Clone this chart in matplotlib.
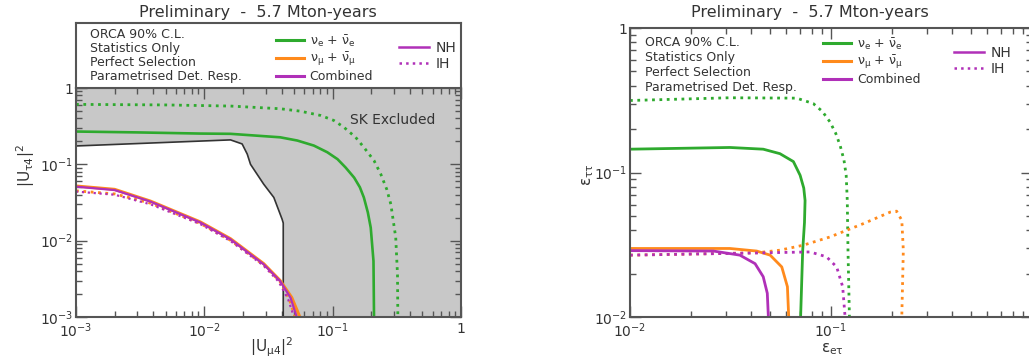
import numpy as np
import matplotlib
matplotlib.use('Agg')
import matplotlib.pyplot as plt
from matplotlib.lines import Line2D
from matplotlib.ticker import LogLocator, NullFormatter

# ---- data ----
title = 'Preliminary  -  5.7 Mton-years'
info_lines = ['ORCA 90% C.L.', 'Statistics Only', 'Perfect Selection',
              'Parametrised Det. Resp.']

# left panel: |U_mu4|^2 vs |U_tau4|^2
sk_x = [1e-3, 0.016, 0.0197, 0.0216, 0.0229, 0.029, 0.0348, 0.0404, 0.0412, 0.0412]
sk_y = [0.174, 0.209, 0.185, 0.136, 0.1, 0.055, 0.0368, 0.019, 0.017, 1e-3]

l_e_nh_x = [1e-3, 0.003, 0.0093, 0.016, 0.039, 0.053, 0.0714, 0.0908, 0.109, 0.126,
            0.147, 0.163, 0.175, 0.188, 0.198, 0.208, 0.21]
l_e_nh_y = [0.269, 0.262, 0.253, 0.251, 0.226, 0.205, 0.176, 0.144, 0.117, 0.091,
            0.067, 0.05, 0.0368, 0.0234, 0.0148, 0.0054, 1e-3]
l_e_ih_x = [1e-3, 0.005, 0.016, 0.039, 0.056, 0.0805, 0.102, 0.122, 0.151, 0.175,
            0.21, 0.237, 0.264, 0.284, 0.31, 0.32, 0.322]
l_e_ih_y = [0.61, 0.60, 0.58, 0.535, 0.497, 0.437, 0.376, 0.307, 0.226, 0.167,
            0.112, 0.0745, 0.047, 0.030, 0.011, 0.0036, 1e-3]

l_mu_nh_x = [1e-3, 0.002, 0.0038, 0.0093, 0.016, 0.029, 0.039, 0.048, 0.0555]
l_mu_nh_y = [0.052, 0.047, 0.033, 0.0176, 0.0106, 0.0050, 0.0030, 0.0018, 1e-3]
l_mu_ih_x = [1e-3, 0.002, 0.0038, 0.0093, 0.016, 0.029, 0.039, 0.046, 0.051]
l_mu_ih_y = [0.045, 0.041, 0.031, 0.0168, 0.0101, 0.0048, 0.0029, 0.0017, 1e-3]

l_c_nh_x = [1e-3, 0.002, 0.0038, 0.0093, 0.016, 0.029, 0.039, 0.047, 0.0525]
l_c_nh_y = [0.051, 0.046, 0.0325, 0.0173, 0.0104, 0.0049, 0.00295, 0.00178, 1e-3]
l_c_ih_x = [1e-3, 0.002, 0.0038, 0.0093, 0.016, 0.029, 0.038, 0.045, 0.050]
l_c_ih_y = [0.044, 0.040, 0.030, 0.0165, 0.0099, 0.0047, 0.0029, 0.0017, 1e-3]

# right panel: eps_etau vs eps_tautau
r_e_nh_x = [0.01, 0.0314, 0.046, 0.0557, 0.065, 0.0702, 0.0732, 0.0743, 0.0738, 0.0723, 0.0706]
r_e_nh_y = [0.145, 0.149, 0.145, 0.135, 0.119, 0.0957, 0.078, 0.064, 0.045, 0.0288, 0.01]
r_e_ih_x = [0.01, 0.0314, 0.0675, 0.0816, 0.0905, 0.0988, 0.1055, 0.111, 0.116, 0.119,
            0.1205, 0.1215, 0.1235]
r_e_ih_y = [0.315, 0.329, 0.327, 0.30, 0.265, 0.224, 0.187, 0.154, 0.122, 0.0957,
            0.064, 0.0288, 0.01]

r_mu_nh_x = [0.01, 0.0314, 0.0427, 0.0498, 0.0569, 0.0607, 0.0616]
r_mu_nh_y = [0.0298, 0.0298, 0.0286, 0.0268, 0.0222, 0.0162, 0.01]
r_mu_ih_x = [0.01, 0.0427, 0.0557, 0.0728, 0.0988, 0.145, 0.197, 0.212, 0.225, 0.229, 0.225]
r_mu_ih_y = [0.0268, 0.0278, 0.029, 0.0314, 0.0358, 0.0443, 0.0532, 0.054, 0.0467, 0.029, 0.01]

r_c_nh_x = [0.01, 0.026, 0.0352, 0.0419, 0.046, 0.0482, 0.0488]
r_c_nh_y = [0.0288, 0.0286, 0.0268, 0.0234, 0.019, 0.0146, 0.01]
r_c_ih_x = [0.01, 0.046, 0.0787, 0.095, 0.1067, 0.1143, 0.1175]
r_c_ih_y = [0.0268, 0.0278, 0.0282, 0.0261, 0.0222, 0.0162, 0.01]

left_ticks = [1e-3, 1e-2, 1e-1, 1]
left_labels = ['$10^{-3}$', '$10^{-2}$', '$10^{-1}$', '1']
right_ticks = [1e-2, 1e-1, 1]
right_labels = ['$10^{-2}$', '$10^{-1}$', '1']

GREEN = '#2eaa2e'
ORANGE = '#ff8a1c'
MAGENTA = '#b030b8'
GREY = '#555555'
TXT = '#333333'

W, H = 1029, 360


def px_rect(x0, y0, x1, y1):
    return [x0 / W, 1 - y1 / H, (x1 - x0) / W, (y1 - y0) / H]


def style_log(ax, ticks, labels, ylim, xlabels=None):
    ax.set_xscale('log')
    ax.set_yscale('log')
    ax.set_xlim(ticks[0], ticks[-1])
    ax.set_ylim(*ylim)
    ax.set_xticks(ticks, xlabels if xlabels is not None else labels)
    yt = [t for t in ticks if ylim[0] <= t <= ylim[1]]
    ax.set_yticks(yt, [labels[ticks.index(t)] for t in yt])
    for axis in (ax.xaxis, ax.yaxis):
        axis.set_minor_locator(LogLocator(subs=np.arange(2, 10)))
        axis.set_minor_formatter(NullFormatter())
    ax.tick_params(which='both', direction='in', top=True, right=True,
                   color=GREY, labelcolor=TXT, labelsize=10, width=1)
    ax.tick_params(which='major', length=8, pad=2)
    ax.tick_params(axis='x', which='major', pad=3.5)
    ax.tick_params(which='minor', length=4)
    for sp in ax.spines.values():
        sp.set_color(GREY)
        sp.set_linewidth(1.5)


def add_legends(ax, colour_loc, hier_loc):
    colour_handles = [Line2D([], [], color=GREEN, lw=2.2),
                      Line2D([], [], color=ORANGE, lw=2.2),
                      Line2D([], [], color=MAGENTA, lw=2.2)]
    colour_labels = [r'$\nu_e$ + $\bar{\nu}_e$', r'$\nu_\mu$ + $\bar{\nu}_\mu$', 'Combined']
    leg1 = ax.legend(colour_handles, colour_labels, loc='upper left',
                     bbox_to_anchor=colour_loc, frameon=False, fontsize=9,
                     handlelength=2.2, handletextpad=0.5, labelspacing=0.15,
                     borderaxespad=0, labelcolor=TXT)
    ax.add_artist(leg1)
    hier_handles = [Line2D([], [], color=MAGENTA, lw=1.8),
                    Line2D([], [], color=MAGENTA, lw=1.8, ls=':')]
    ax.legend(hier_handles, ['NH', 'IH'], loc='upper left',
              bbox_to_anchor=hier_loc, frameon=False, fontsize=10,
              handlelength=2.2, handletextpad=0.5, labelspacing=0.15,
              borderaxespad=0, labelcolor=TXT)


def main():
    plt.rcParams['font.family'] = ['DejaVu Sans']
    plt.rcParams['mathtext.default'] = 'regular'
    fig = plt.figure(figsize=(W / 100, H / 100), dpi=100)

    # ---------------- left panel ----------------
    axl = fig.add_axes(px_rect(76, 88, 461, 317))
    style_log(axl, left_ticks, left_labels, (1e-3, 1))
    axl.fill(sk_x + [1, 1, 1e-3], sk_y + [1e-3, 1, 1], color='#c8c8c8', lw=0, zorder=0)
    axl.plot(sk_x, sk_y, color='#333333', lw=1.2)
    axl.plot(l_e_nh_x, l_e_nh_y, color=GREEN, lw=1.9)
    axl.plot(l_e_ih_x, l_e_ih_y, color=GREEN, lw=2, ls=':')
    axl.plot(l_mu_nh_x, l_mu_nh_y, color=ORANGE, lw=2.2)
    axl.plot(l_mu_ih_x, l_mu_ih_y, color=ORANGE, lw=2, ls=':')
    axl.plot(l_c_nh_x, l_c_nh_y, color=MAGENTA, lw=1.6)
    axl.plot(l_c_ih_x, l_c_ih_y, color=MAGENTA, lw=1.6, ls=':')
    axl.text(0.294, 0.38, 'SK Excluded', fontsize=10, color=TXT, ha='center', va='center')
    axl.set_xlabel(r'|U$_{\mu4}$|$^2$', fontsize=11, color=TXT, labelpad=0)
    axl.xaxis.set_label_coords((272 - 76) / 385, -(336 - 317) / 229)
    axl.set_ylabel(r'|U$_{\tau4}$|$^2$', fontsize=11, color=TXT, labelpad=0)
    axl.yaxis.set_label_coords(-(76 - 37) / 385, (317 - 165) / 229)

    # legend box above the left panel
    legl = fig.add_axes(px_rect(76, 23, 461, 88))
    legl.set_xticks([])
    legl.set_yticks([])
    for sp in legl.spines.values():
        sp.set_color(GREY)
        sp.set_linewidth(1.5)
    for i, line in enumerate(info_lines):
        legl.text((90 - 76) / 385, 1 - (35 + 13.7 * i - 23) / 65, line, fontsize=9,
                  color=TXT, va='center', transform=legl.transAxes)
    add_legends(legl, ((271 - 76) / 385, 1 - (28 - 23) / 65), ((393 - 76) / 385, 1 - (35 - 23) / 65))
    fig.text(258 / W, 1 - 12 / H, title, fontsize=11.5, color=TXT, ha='center', va='center')

    # ---------------- right panel ----------------
    axr = fig.add_axes(px_rect(630, 28, 1032, 317))
    style_log(axr, right_ticks, right_labels, (1e-2, 1), xlabels=right_labels[:2] + [''])
    axr.plot(r_e_nh_x, r_e_nh_y, color=GREEN, lw=2)
    axr.plot(r_e_ih_x, r_e_ih_y, color=GREEN, lw=2, ls=':')
    axr.plot(r_mu_nh_x, r_mu_nh_y, color=ORANGE, lw=2)
    axr.plot(r_mu_ih_x, r_mu_ih_y, color=ORANGE, lw=2, ls=':')
    axr.plot(r_c_nh_x, r_c_nh_y, color=MAGENTA, lw=2)
    axr.plot(r_c_ih_x, r_c_ih_y, color=MAGENTA, lw=2, ls=':')
    for i, line in enumerate(info_lines):
        axr.text((645 - 630) / 402, 1 - (43 + 15 * i - 28) / 289, line, fontsize=9,
                 color=TXT, va='center', transform=axr.transAxes)
    add_legends(axr, ((818 - 630) / 402, 1 - (31 - 28) / 289), ((948 - 630) / 402, 1 - (40 - 28) / 289))
    axr.set_xlabel(r'$\epsilon_{e\tau}$', fontsize=11, color=TXT, labelpad=0)
    axr.xaxis.set_label_coords((832 - 630) / 402, -(341 - 317) / 289)
    axr.set_ylabel(r'$\epsilon_{\tau\tau}$', fontsize=11, color=TXT, labelpad=0)
    axr.yaxis.set_label_coords(-(630 - 596) / 402, (317 - 175) / 289)
    fig.text(810 / W, 1 - 12 / H, title, fontsize=11.5, color=TXT, ha='center', va='center')

    fig.savefig('out.png', dpi=100)


if __name__ == '__main__':
    main()
